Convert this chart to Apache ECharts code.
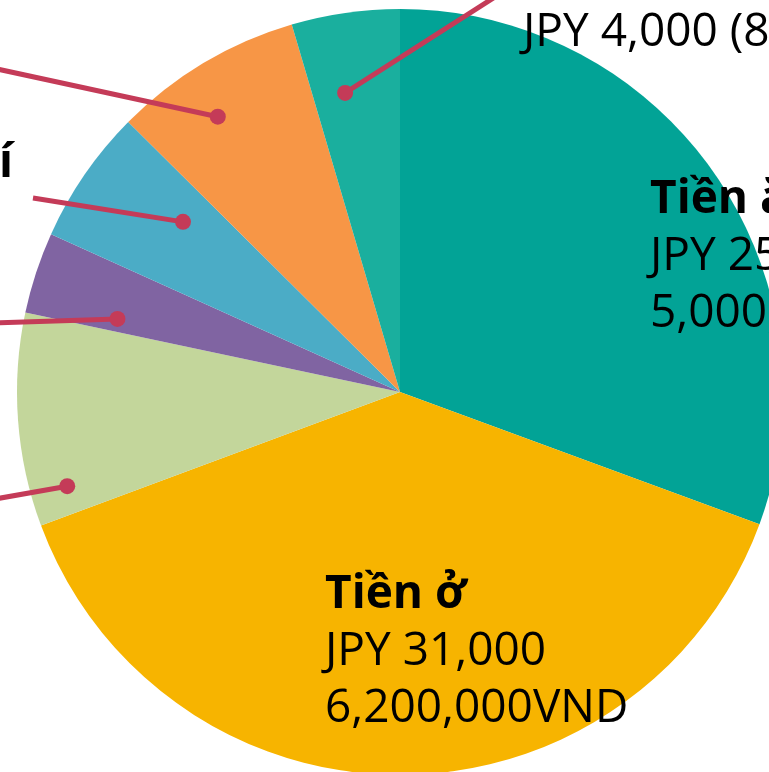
<!DOCTYPE html>
<html><head><meta charset="utf-8">
<script src="https://cdn.jsdelivr.net/npm/echarts@6/dist/echarts.min.js"></script>
<style>html,body{margin:0;padding:0;background:#fff;overflow:hidden}#c{width:769px;height:772px}</style>
</head><body><div id="c"></div>
<script>
// ---- data ----
const categories = ['Tiền ăn', 'Tiền ở', 'Đi lại', 'Điện thoại', 'Sinh hoạt phí', 'Chi phí khác', 'Điện nước'];
const valuesJPY = [24500, 31000, 7200, 2750, 4550, 6400, 3650];
const jpyLabels = ['JPY 25,000', 'JPY 31,000', 'JPY 7,000', 'JPY 3,000', 'JPY 4,500', 'JPY 6,000', 'JPY 4,000 (800,000VND)'];
const vndLabels = ['5,000,000VND', '6,200,000VND', '1,400,000VND', '600,000VND', '900,000VND', '1,200,000VND', ''];
// callout anchor points inside slices (radius fraction, angle in degrees clockwise from top)
const anchorRadius = [null, null, 0.903, 0.762, 0.72, 0.862, 0.794];
const anchorAngle = [null, null, 254.2, 284.5, 308.1, 326.5, 349.6];

// ---- layout / style ----
const CX = 400, CY = 392, R = 383;
const colors = ['#02a396', '#f7b400', '#c3d69b', '#8064a2', '#4bacc6', '#f79646', '#1aaf9e'];
const calloutColor = '#c43b58';
const FONT = "'Open Sans', 'Noto Sans', sans-serif";
const labelPlace = [
  { x: 650, y: 171 },
  { x: 325, y: 566 },
  { rightEdge: -106, yMid: 516, lineEnd: [-100, 516] },
  { rightEdge: -106, yMid: 326, lineEnd: [-100, 326] },
  { rightEdge: 13, y: 135, lineEnd: [33, 198] },
  { rightEdge: -106, yMid: 48, lineEnd: [-100, 48] },
  { x: 523, y: -53, lineEnd: [509, -12] }
];

const chart = echarts.init(document.getElementById('c'), null, { renderer: 'canvas' });

function anchorPixel(i) {
  const t = anchorAngle[i] * Math.PI / 180;
  const r = anchorRadius[i] * R;
  return [CX + r * Math.sin(t), CY - r * Math.cos(t)];
}

const pieBase = {
  type: 'pie',
  center: [CX, CY],
  radius: R,
  startAngle: 90,
  clockwise: true,
  avoidLabelOverlap: false,
  silent: true
};

const option = {
  animation: false,
  backgroundColor: '#ffffff',
  polar: { center: [CX, CY], radius: R },
  angleAxis: { type: 'value', min: 0, max: 360, startAngle: 90, clockwise: true, show: false,
    axisLine: { show: false }, axisTick: { show: false }, axisLabel: { show: false }, splitLine: { show: false } },
  radiusAxis: { type: 'value', min: 0, max: 1, show: false,
    axisLine: { show: false }, axisTick: { show: false }, axisLabel: { show: false }, splitLine: { show: false } },
  series: [
    Object.assign({}, pieBase, {
      z: 1,
      data: categories.map((c, i) => ({ name: c, value: valuesJPY[i], itemStyle: { color: colors[i] } })),
      label: { show: false },
      labelLine: { show: false }
    }),
    Object.assign({}, pieBase, {
      z: 3,
      data: categories.map((c, i) => ({
        name: c,
        value: valuesJPY[i],
        itemStyle: { color: 'rgba(0,0,0,0)' },
        labelLine: { show: anchorRadius[i] != null }
      })),
      label: {
        show: true,
        position: 'outside',
        formatter: function (p) {
          const i = p.dataIndex;
          let s = '{b|' + categories[i] + '}\n{n|' + jpyLabels[i] + '}';
          if (vndLabels[i]) s += '\n{n|' + vndLabels[i] + '}';
          return s;
        },
        rich: {
          b: { fontFamily: FONT, fontWeight: 'bold', fontSize: 46, lineHeight: 57, color: '#000' },
          n: { fontFamily: FONT, fontWeight: 'normal', fontSize: 46, lineHeight: 57, color: '#000' }
        }
      },
      labelLine: { show: true, smooth: false, length: 10, length2: 10, lineStyle: { color: calloutColor, width: 5, opacity: 1 } },
      labelLayout: function (params) {
        const i = params.dataIndex;
        const pl = labelPlace[i];
        const rect = params.labelRect;
        const out = { align: 'left', verticalAlign: 'top', hideOverlap: false };
        out.x = pl.rightEdge != null ? pl.rightEdge - rect.width : pl.x;
        out.y = pl.yMid != null ? pl.yMid - rect.height / 2 : pl.y;
        if (anchorRadius[i] != null && pl.lineEnd) {
          const a = anchorPixel(i);
          out.labelLinePoints = [a, pl.lineEnd, pl.lineEnd];
        }
        return out;
      }
    }),
    {
      type: 'scatter',
      coordinateSystem: 'polar',
      symbol: 'circle',
      symbolSize: 16,
      silent: true,
      z: 5,
      itemStyle: { color: calloutColor, opacity: 1 },
      data: anchorRadius.map((r, i) => r == null ? null : [r, anchorAngle[i]]).filter(d => d)
    }
  ]
};
chart.setOption(option);
</script>
</body></html>
